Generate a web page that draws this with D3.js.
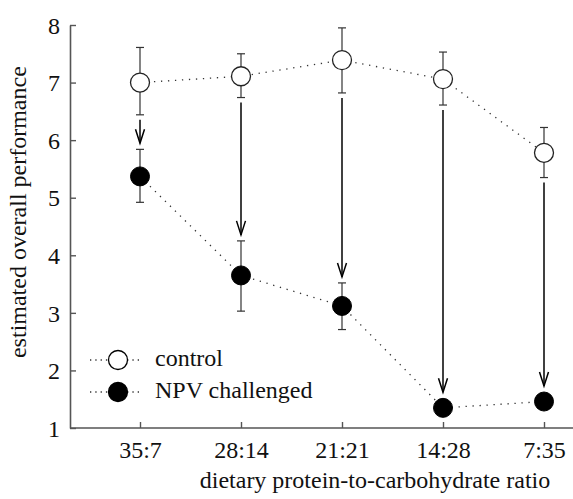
<!DOCTYPE html>
<html>
<head>
<meta charset="utf-8">
<script src="https://cdn.jsdelivr.net/npm/d3@7"></script>
<style>
  body { margin: 0; background: #fff; }
  svg { display: block; font-family: "Liberation Serif", "Times New Roman", serif; }
</style>
</head>
<body>
<svg id="chart" width="573" height="499"></svg>
<script>
(function () {
    'use strict';

    const WIDTH = 573;
    const FONT = 24;

    const ratios = ["35:7", "28:14", "21:21", "14:28", "7:35"];
    const controlMean = [7.00, 7.11, 7.39, 7.06, 5.78];
    const controlUpper = [7.61, 7.50, 7.95, 7.53, 6.22];
    const controlLower = [6.44, 6.74, 6.82, 6.61, 5.35];
    const npvMean = [5.37, 3.65, 3.12, 1.35, 1.46];
    const npvUpper = [5.84, 4.25, 3.52, 1.42, 1.52];
    const npvLower = [4.92, 3.03, 2.71, 1.28, 1.40];
    const yTicks = [1, 2, 3, 4, 5, 6, 7, 8];

    const R = 9.5;
    let svg = d3.select("#chart");

    let x = d3.scalePoint().domain(ratios).range([140, 544]);
    let y = d3.scaleLinear().domain([1, 8]).range([428, 25]);

    // axes
    let yAxis = svg.append("g")
        .attr("transform", "translate(70,0)")
        .call(d3.axisLeft(y).tickValues(yTicks).tickFormat(d3.format("d"))
            .tickSizeInner(-6).tickSizeOuter(0).tickPadding(10));
    let xAxis = svg.append("g")
        .attr("transform", "translate(0,428)")
        .call(d3.axisBottom(x).tickSizeInner(-6).tickSizeOuter(0).tickPadding(13));
    xAxis.select(".domain").remove();
    xAxis.append("line")
        .attr("x1", 70).attr("x2", WIDTH)
        .attr("stroke", "#555").attr("stroke-width", 1.6);
    yAxis.select(".domain").attr("stroke", "#555").attr("stroke-width", 1.6);

    [xAxis, yAxis].forEach(g => {
        g.selectAll(".tick line").attr("stroke", "#555").attr("stroke-width", 1.4);
        g.selectAll(".tick text")
            .attr("font-family", "Liberation Serif, serif")
            .attr("font-size", FONT).attr("fill", "#111");
    });
    yAxis.selectAll(".tick text").attr("dy", "0.34em");

    svg.append("text")
        .attr("x", 375)
        .attr("y", 488)
        .attr("text-anchor", "middle")
        .attr("font-size", FONT).attr("fill", "#111")
        .text("dietary protein-to-carbohydrate ratio");

    svg.append("text")
        .attr("transform", "translate(26," + y(4.75) + ") rotate(-90)")
        .attr("text-anchor", "middle")
        .attr("font-size", FONT).attr("fill", "#111")
        .text("estimated overall performance");

    // dotted connecting lines
    let line = d3.line().x((d, i) => x(ratios[i])).y(d => y(d));
    [controlMean, npvMean].forEach(s => {
        svg.append("path")
            .attr("d", line(s))
            .attr("fill", "none")
            .attr("stroke", "#333")
            .attr("stroke-width", 1.3)
            .attr("stroke-dasharray", "1.3,5.7");
    });

    // error bars
    function errorBars(upper, lower) {
        let g = svg.append("g").attr("stroke", "#333").attr("stroke-width", 1.2);
        ratios.forEach((r, i) => {
            let cx = x(r);
            g.append("line").attr("x1", cx).attr("x2", cx)
                .attr("y1", y(upper[i])).attr("y2", y(lower[i]));
            [upper[i], lower[i]].forEach(v => {
                g.append("line").attr("x1", cx - 4).attr("x2", cx + 4)
                    .attr("y1", y(v)).attr("y2", y(v));
            });
        });
    }
    errorBars(controlUpper, controlLower);
    errorBars(npvUpper, npvLower);

    // arrows from control to challenged
    let arrows = svg.append("g").attr("stroke", "#000").attr("stroke-width", 1.5).attr("fill", "none");
    ratios.forEach((r, i) => {
        let cx = x(r);
        let y0 = y(controlLower[i]) + 5;
        let y1 = Math.min(y(npvUpper[i]), y(npvMean[i]) - R) - 6;
        arrows.append("line").attr("x1", cx).attr("x2", cx).attr("y1", y0).attr("y2", y1);
        arrows.append("path")
            .attr("d", `M${cx - 4.5},${y1 - 14}L${cx},${y1}L${cx + 4.5},${y1 - 14}`);
    });

    // markers
    svg.append("g").selectAll("circle").data(controlMean).join("circle")
        .attr("cx", (d, i) => x(ratios[i])).attr("cy", d => y(d)).attr("r", R)
        .attr("fill", "#fff").attr("stroke", "#222").attr("stroke-width", 1.3);
    svg.append("g").selectAll("circle").data(npvMean).join("circle")
        .attr("cx", (d, i) => x(ratios[i])).attr("cy", d => y(d)).attr("r", R)
        .attr("fill", "#000").attr("stroke", "#000").attr("stroke-width", 1);

    // legend
    let legendItems = [
        {label: "control", fill: "#fff", yPos: 360},
        {label: "NPV challenged", fill: "#000", yPos: 392}
    ];
    let legend = svg.append("g");
    legendItems.forEach(item => {
        legend.append("line")
            .attr("x1", 90).attr("x2", 143).attr("y1", item.yPos).attr("y2", item.yPos)
            .attr("stroke", "#333").attr("stroke-width", 1.3).attr("stroke-dasharray", "1.3,4");
        legend.append("circle")
            .attr("cx", 118).attr("cy", item.yPos).attr("r", R)
            .attr("fill", item.fill).attr("stroke", "#000").attr("stroke-width", 1.3);
        legend.append("text")
            .attr("x", 155).attr("y", item.yPos + 6)
            .attr("font-size", FONT).attr("fill", "#111")
            .text(item.label);
    });
})();
</script>
</body>
</html>
